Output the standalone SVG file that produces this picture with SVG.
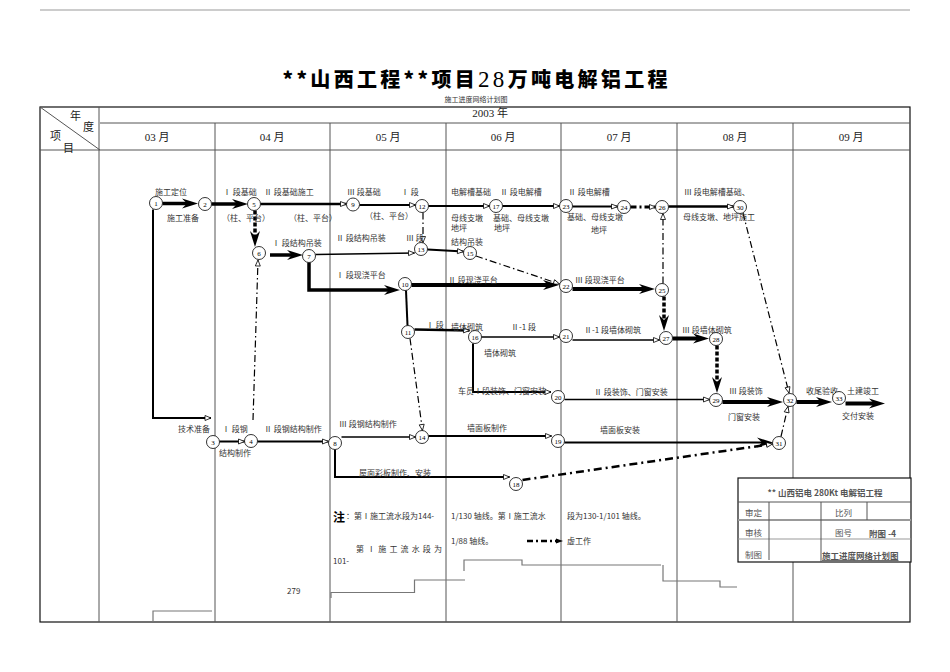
<svg xmlns="http://www.w3.org/2000/svg" width="950" height="672" viewBox="0 0 950 672">
<style>
.g{stroke:#555;stroke-width:1;fill:none}
.b{stroke:#111;stroke-width:1.2;fill:none}
.st{stroke:#777;stroke-width:1.2;fill:none}
.lbl{font-family:"Noto Sans CJK SC","Liberation Serif",sans-serif;font-size:8px;fill:#333}
.hd{font-family:"Liberation Serif","Noto Sans CJK SC",serif;font-size:11px;fill:#222}
.nd circle{fill:#fff;stroke:#000;stroke-width:0.8}
.nd text{font-family:"Liberation Serif",serif;font-size:7px;text-anchor:middle;fill:#000}
.c{stroke:#000;fill:none}
.dd{stroke-dasharray:7,3,1.5,3}
.ds{stroke-dasharray:4,2}
.tb{font-family:"Noto Sans CJK SC",sans-serif;font-size:8.5px;fill:#555}
</style>
<defs>
<marker id="sm" markerUnits="userSpaceOnUse" markerWidth="8" markerHeight="6" refX="6" refY="2.5" orient="auto" overflow="visible">
<path d="M0,0 L6,2.5 L0,5 z" fill="#fff" stroke="#000" stroke-width="0.8"/>
</marker>
<marker id="bg" markerUnits="userSpaceOnUse" markerWidth="16" markerHeight="10" refX="5" refY="5" orient="auto" overflow="visible">
<path d="M0,0 L16,5 L0,10 L5,5 z" fill="#000"/>
</marker>
<marker id="fa" markerUnits="userSpaceOnUse" markerWidth="8" markerHeight="6" refX="2" refY="2.5" orient="auto" overflow="visible">
<path d="M0,0 L7,2.5 L0,5 z" fill="#000"/>
</marker>
</defs>
<rect width="950" height="672" fill="#fff"/>
<line x1="40" y1="10" x2="910" y2="10" stroke="#999" stroke-width="1"/>
<text x="475" y="87" text-anchor="middle" textLength="385" lengthAdjust="spacing" font-family="Noto Sans CJK SC,sans-serif" font-weight="900" font-size="20" fill="#000">**山西工程**项目<tspan font-family="Liberation Serif,serif" font-weight="normal" font-size="23">28</tspan>万吨电解铝工程</text>
<text x="476" y="102" text-anchor="middle" font-family="Noto Sans CJK SC,sans-serif" font-size="7" fill="#333">施工进度网络计划图</text>

<g id="grid">
<rect x="40" y="107" width="870" height="515" class="b"/>
<line x1="100" y1="123" x2="910" y2="123" class="g"/>
<line x1="40" y1="150" x2="910" y2="150" class="g"/>
<line x1="40" y1="107" x2="100" y2="150" class="g"/>
<line x1="99" y1="107" x2="99" y2="622" class="g"/>
<line x1="215" y1="123" x2="215" y2="622" class="g"/>
<line x1="330" y1="123" x2="330" y2="622" class="g"/>
<line x1="446" y1="123" x2="446" y2="622" class="g"/>
<line x1="561" y1="123" x2="561" y2="622" class="g"/>
<line x1="677" y1="123" x2="677" y2="622" class="g"/>
<line x1="793" y1="123" x2="793" y2="622" class="g"/>
<text x="70" y="120" class="hd" font-size="10">年</text>
<text x="83" y="131" class="hd" font-size="10">度</text>
<text x="50" y="140" class="hd" font-size="10">项</text>
<text x="63" y="152" class="hd" font-size="10">目</text>
<text x="490" y="117" class="hd" text-anchor="middle" font-size="10">2003 年</text>
<text x="157" y="141" class="hd" text-anchor="middle">03 月</text>
<text x="272" y="141" class="hd" text-anchor="middle">04 月</text>
<text x="388" y="141" class="hd" text-anchor="middle">05 月</text>
<text x="503" y="141" class="hd" text-anchor="middle">06 月</text>
<text x="619" y="141" class="hd" text-anchor="middle">07 月</text>
<text x="735" y="141" class="hd" text-anchor="middle">08 月</text>
<text x="851" y="141" class="hd" text-anchor="middle">09 月</text>
</g>

<g id="connectors">
<line x1="162.5" y1="203.5" x2="187" y2="203.5" class="c" stroke-width="3.5" marker-end="url(#bg)"/>
<line x1="211.5" y1="204" x2="237" y2="204" class="c" stroke-width="3.5" marker-end="url(#bg)"/>
<line x1="255" y1="210.5" x2="255" y2="236" class="c ds" stroke-width="3.5" marker-end="url(#bg)"/>
<line x1="270" y1="255" x2="292" y2="255" class="c" stroke-width="3.5" marker-end="url(#bg)"/>
<path d="M309,262.5 L309,290 L389,290" class="c" stroke-width="3.5" marker-end="url(#bg)"/>
<line x1="260.5" y1="204" x2="346.5" y2="204" class="c" stroke-width="2.5" marker-end="url(#sm)"/>
<line x1="359.5" y1="205" x2="415.5" y2="205" class="c" stroke-width="2" marker-end="url(#sm)"/>
<line x1="428.5" y1="206" x2="489.5" y2="206" class="c" stroke-width="2" marker-end="url(#sm)"/>
<line x1="502.5" y1="206" x2="559.5" y2="206" class="c" stroke-width="2" marker-end="url(#sm)"/>
<line x1="572.5" y1="206.5" x2="617.5" y2="206.5" class="c" stroke-width="2" marker-end="url(#sm)"/>
<line x1="630.5" y1="207" x2="655.5" y2="207" class="c" stroke-width="3" stroke-dasharray="6,3,2,3" marker-end="url(#sm)"/>
<line x1="668.5" y1="206.5" x2="733.5" y2="206.5" class="c" stroke-width="2.5" marker-end="url(#sm)"/>
<line x1="423" y1="212.5" x2="423" y2="242.5" class="c dd" stroke-width="1.2" marker-end="url(#sm)"/>
<line x1="315.5" y1="254.5" x2="414.5" y2="253" class="c" stroke-width="1.5" marker-end="url(#sm)"/>
<line x1="427.5" y1="249.5" x2="463.5" y2="251.5" class="c" stroke-width="2" marker-end="url(#sm)"/>
<line x1="476" y1="256" x2="559.5" y2="284" class="c dd" stroke-width="1.2" marker-end="url(#sm)"/>
<line x1="411.5" y1="285" x2="548" y2="285" class="c" stroke-width="4" marker-end="url(#bg)"/>
<line x1="572.5" y1="289" x2="644" y2="289" class="c" stroke-width="4" marker-end="url(#bg)"/>
<line x1="663" y1="283.5" x2="663" y2="213.5" class="c dd" stroke-width="1.2" marker-end="url(#sm)"/>
<line x1="664" y1="296.5" x2="664" y2="320" class="c ds" stroke-width="3.5" marker-end="url(#bg)"/>
<line x1="406" y1="290.5" x2="407.5" y2="325.5" class="c" stroke-width="2"/>
<line x1="414.5" y1="329.5" x2="469.5" y2="330.5" class="c" stroke-width="2.5" marker-end="url(#sm)"/>
<line x1="481.5" y1="337" x2="559.5" y2="337" class="c" stroke-width="1.5" marker-end="url(#sm)"/>
<line x1="572.5" y1="340" x2="659.5" y2="340" class="c" stroke-width="1.5" marker-end="url(#sm)"/>
<line x1="672.5" y1="338.5" x2="698" y2="338.5" class="c" stroke-width="4" marker-end="url(#bg)"/>
<line x1="717" y1="345.5" x2="717" y2="382" class="c ds" stroke-width="3.5" marker-end="url(#bg)"/>
<path d="M473,343.5 L473,392 L551,392" class="c" stroke-width="2" marker-end="url(#sm)"/>
<line x1="564.5" y1="399.5" x2="709.5" y2="399.5" class="c" stroke-width="1.5" marker-end="url(#sm)"/>
<line x1="722.5" y1="402" x2="772" y2="402" class="c" stroke-width="4" marker-end="url(#bg)"/>
<line x1="796.5" y1="402" x2="821" y2="402" class="c" stroke-width="4" marker-end="url(#bg)"/>
<line x1="845.5" y1="403.5" x2="874" y2="403.5" class="c" stroke-width="4" marker-end="url(#bg)"/>
<line x1="743" y1="213" x2="789" y2="393" class="c dd" stroke-width="1.2" marker-end="url(#sm)"/>
<line x1="781" y1="436.5" x2="788" y2="406.5" class="c dd" stroke-width="1.2" marker-end="url(#sm)"/>
<line x1="410" y1="338.5" x2="422.5" y2="430.5" class="c dd" stroke-width="1.2" marker-end="url(#sm)"/>
<path d="M153,209.5 L153,418 L211,418" class="c" stroke-width="2" marker-end="url(#sm)"/>
<line x1="219.5" y1="441.5" x2="244.5" y2="441.5" class="c" stroke-width="2" marker-end="url(#sm)"/>
<line x1="257.5" y1="441.5" x2="328.5" y2="441.5" class="c" stroke-width="2" marker-end="url(#sm)"/>
<line x1="341.5" y1="437" x2="415.5" y2="437" class="c" stroke-width="1.5" marker-end="url(#sm)"/>
<line x1="428.5" y1="436" x2="551.5" y2="436" class="c" stroke-width="2" marker-end="url(#sm)"/>
<line x1="564.5" y1="442.5" x2="762" y2="442.5" class="c" stroke-width="2" marker-end="url(#bg)"/>
<path d="M335,449.5 L335,477 L509.5,477" class="c" stroke-width="2" marker-end="url(#sm)"/>
<line x1="522.5" y1="480" x2="772.5" y2="444" class="c" stroke-width="2.5" stroke-dasharray="8,4,2,4" marker-end="url(#sm)"/>
<line x1="253" y1="420" x2="258" y2="260" class="c dd" stroke-width="1.2" marker-end="url(#sm)"/>
</g>

<g id="labels" class="lbl">
<text x="155" y="195">施工定位</text>
<text x="167" y="221">施工准备</text>
<text x="223" y="194.5">Ⅰ 段基础</text>
<text x="264" y="194.5">Ⅱ 段基础施工</text>
<text x="222" y="221">（柱、平台）</text>
<text x="289" y="221">（柱、平台）</text>
<text x="272" y="246">Ⅰ 段结构吊装</text>
<text x="347" y="194.5">Ⅲ 段基础</text>
<text x="401" y="194.5">Ⅰ 段</text>
<text x="365" y="218.5">（柱、平台）</text>
<text x="451" y="194.5">电解槽基础</text>
<text x="500" y="194.5">Ⅱ 段电解槽</text>
<text x="451" y="220.5">母线支墩</text>
<text x="493" y="220.5">基础、母线支墩</text>
<text x="451" y="231">地坪</text>
<text x="494" y="231">地坪</text>
<text x="451" y="244.5">结构吊装</text>
<text x="336" y="241">Ⅱ 段结构吊装</text>
<text x="406" y="241">Ⅲ 段</text>
<text x="336" y="278">Ⅰ 段现浇平台</text>
<text x="448" y="283">Ⅱ 段现浇平台</text>
<text x="568" y="194.5">Ⅱ 段电解槽</text>
<text x="567" y="220">基础、母线支墩</text>
<text x="591" y="233">地坪</text>
<text x="684" y="194.5">Ⅲ 段电解槽基础、</text>
<text x="683" y="220">母线支墩、地坪施工</text>
<text x="575" y="283">Ⅲ 段现浇平台</text>
<text x="426" y="328">Ⅰ 段</text>
<text x="451" y="330">墙体砌筑</text>
<text x="511" y="330">Ⅱ-1 段</text>
<text x="484" y="356">墙体砌筑</text>
<text x="458" y="393.5">车员Ⅰ段装饰、门窗安装</text>
<text x="584" y="333">Ⅱ-1 段墙体砌筑</text>
<text x="682" y="333">Ⅲ 段墙体砌筑</text>
<text x="594" y="394.5">Ⅱ 段装饰、门窗安装</text>
<text x="729" y="393.5">Ⅲ 段装饰</text>
<text x="728" y="419.5">门窗安装</text>
<text x="806" y="393.5">收尾验收</text>
<text x="847" y="393.5">土建竣工</text>
<text x="842" y="419">交付安装</text>
<text x="178" y="432">技术准备</text>
<text x="222" y="432">Ⅰ 段钢</text>
<text x="219" y="456">结构制作</text>
<text x="264" y="432">Ⅱ 段钢结构制作</text>
<text x="339" y="427">Ⅲ 段钢结构制作</text>
<text x="359" y="475.5">屋面彩板制作、安装</text>
<text x="467" y="431">墙面板制作</text>
<text x="600" y="433">墙面板安装</text>
</g>

<g id="nodes">
<g id="n1" class="nd"><circle cx="156" cy="203" r="6.5"/><text x="156" y="205.5">1</text></g>
<g id="n2" class="nd"><circle cx="205" cy="204" r="6.5"/><text x="205" y="206.5">2</text></g>
<g id="n5" class="nd"><circle cx="254" cy="204" r="6.5"/><text x="254" y="206.5">5</text></g>
<g id="n6" class="nd"><circle cx="259" cy="253" r="6.5"/><text x="259" y="255.5">6</text></g>
<g id="n7" class="nd"><circle cx="309" cy="256" r="6.5"/><text x="309" y="258.5">7</text></g>
<g id="n9" class="nd"><circle cx="353" cy="204.5" r="6.5"/><text x="353" y="207">9</text></g>
<g id="n12" class="nd"><circle cx="422" cy="206" r="6.5"/><text x="422" y="208.5">12</text></g>
<g id="n13" class="nd"><circle cx="421" cy="249" r="6.5"/><text x="421" y="251.5">13</text></g>
<g id="n15" class="nd"><circle cx="470" cy="253" r="6.5"/><text x="470" y="255.5">15</text></g>
<g id="n17" class="nd"><circle cx="496" cy="206" r="6.5"/><text x="496" y="208.5">17</text></g>
<g id="n23" class="nd"><circle cx="566" cy="206" r="6.5"/><text x="566" y="208.5">23</text></g>
<g id="n24" class="nd"><circle cx="624" cy="207" r="6.5"/><text x="624" y="209.5">24</text></g>
<g id="n26" class="nd"><circle cx="662" cy="207" r="6.5"/><text x="662" y="209.5">26</text></g>
<g id="n30" class="nd"><circle cx="740" cy="207" r="6.5"/><text x="740" y="209.5">30</text></g>
<g id="n10" class="nd"><circle cx="405" cy="284" r="6.5"/><text x="405" y="286.5">10</text></g>
<g id="n22" class="nd"><circle cx="566" cy="286" r="6.5"/><text x="566" y="288.5">22</text></g>
<g id="n25" class="nd"><circle cx="662" cy="290" r="6.5"/><text x="662" y="292.5">25</text></g>
<g id="n11" class="nd"><circle cx="408" cy="332" r="6.5"/><text x="408" y="334.5">11</text></g>
<g id="n16" class="nd"><circle cx="475" cy="337" r="6.5"/><text x="475" y="339.5">16</text></g>
<g id="n21" class="nd"><circle cx="566" cy="336" r="6.5"/><text x="566" y="338.5">21</text></g>
<g id="n27" class="nd"><circle cx="666" cy="338" r="6.5"/><text x="666" y="340.5">27</text></g>
<g id="n28" class="nd"><circle cx="716" cy="339" r="6.5"/><text x="716" y="341.5">28</text></g>
<g id="n20" class="nd"><circle cx="558" cy="397" r="6.5"/><text x="558" y="399.5">20</text></g>
<g id="n29" class="nd"><circle cx="716" cy="400" r="6.5"/><text x="716" y="402.5">29</text></g>
<g id="n32" class="nd"><circle cx="790" cy="400" r="6.5"/><text x="790" y="402.5">32</text></g>
<g id="n33" class="nd"><circle cx="839" cy="398" r="6.5"/><text x="839" y="400.5">33</text></g>
<g id="n3" class="nd"><circle cx="213" cy="442" r="6.5"/><text x="213" y="444.5">3</text></g>
<g id="n4" class="nd"><circle cx="251" cy="441" r="6.5"/><text x="251" y="443.5">4</text></g>
<g id="n8" class="nd"><circle cx="335" cy="443" r="6.5"/><text x="335" y="445.5">8</text></g>
<g id="n14" class="nd"><circle cx="422" cy="437" r="6.5"/><text x="422" y="439.5">14</text></g>
<g id="n19" class="nd"><circle cx="558" cy="441" r="6.5"/><text x="558" y="443.5">19</text></g>
<g id="n31" class="nd"><circle cx="779" cy="443" r="6.5"/><text x="779" y="445.5">31</text></g>
<g id="n18" class="nd"><circle cx="516" cy="484" r="6.5"/><text x="516" y="486.5">18</text></g>
</g>

<g id="titleblock">
<rect x="738" y="478" width="173" height="84" fill="#fff" stroke="#111" stroke-width="1.2"/>
<line x1="738" y1="502" x2="911" y2="502" class="g"/>
<line x1="738" y1="520" x2="911" y2="520" stroke="#999" stroke-width="2"/>
<line x1="738" y1="539" x2="911" y2="539" stroke="#999" stroke-width="1"/>
<line x1="769" y1="502" x2="769" y2="560" class="g"/>
<line x1="821" y1="502" x2="821" y2="562" class="g"/>
<line x1="867" y1="502" x2="867" y2="520" class="g"/>
<text x="825" y="496" text-anchor="middle" class="tb" font-weight="bold" fill="#222" font-size="9">** 山西铝电 280Kt 电解铝工程</text>
<text x="745" y="516" class="tb">审定</text>
<text x="835" y="516" class="tb">比列</text>
<text x="745" y="536" class="tb">审核</text>
<text x="835" y="536" class="tb">图号</text>
<text x="869" y="537" class="tb" font-size="7.5" font-weight="bold" fill="#222">附图 -4</text>
<text x="745" y="558" class="tb">制图</text>
<text x="822" y="559" class="tb" font-size="8" font-weight="bold" fill="#222" text-decoration="underline">施工进度网络计划图</text>
</g>

<g id="notes" class="lbl">
<text x="333" y="522" font-size="12" font-weight="bold" font-family="Noto Sans CJK SC,sans-serif" fill="#000">注</text>
<text x="346" y="519">：第Ⅰ施工流水段为144-</text>
<text x="451" y="519">1/130 轴线。第Ⅰ施工流水</text>
<text x="567" y="519">段为130-1/101 轴线。</text>
<text x="356" y="552" textLength="86" lengthAdjust="spacing">第 Ⅰ 施 工 流 水 段 为</text>
<text x="451" y="544">1/88 轴线。</text>
<text x="567" y="544">虚工作</text>
<text x="333" y="564">101-</text>
<text x="287" y="594">279</text>
<line x1="527" y1="541" x2="558" y2="541" class="c" stroke-width="2.5" stroke-dasharray="6,3,2,3" marker-end="url(#fa)"/>
</g>

<g id="steps">
<path d="M153,622 L153,611 L212,611" class="st"/>
<path d="M331,598 L331,592.5 L414.5,592.5 L414.5,580 L465,580" class="st"/>
<path d="M464,571 L464,560 L522,560 L522,565 L661,565" class="st"/>
<path d="M663,565 L663,581 L720,581 L720,587 L737,587" class="st"/>
</g>
</svg>
